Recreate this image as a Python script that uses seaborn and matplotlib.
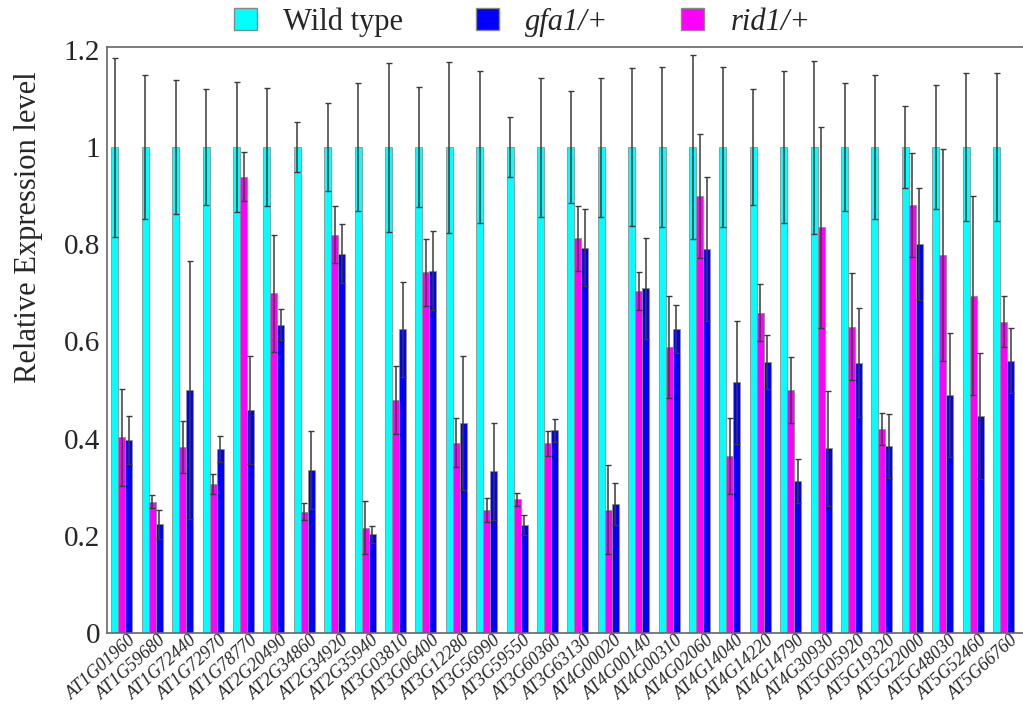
import numpy as np
import pandas as pd
import matplotlib
matplotlib.use("Agg")
import matplotlib.pyplot as plt
import matplotlib.transforms as mtransforms
from matplotlib.patches import Patch
import seaborn as sns

# Données
genes = ["AT1G01960", "AT1G59680", "AT1G72440", "AT1G72970", "AT1G78770",
         "AT2G20490", "AT2G34860", "AT2G34920", "AT2G35940", "AT3G03810",
         "AT3G06400", "AT3G12280", "AT3G56990", "AT3G59550", "AT3G60360",
         "AT3G63130", "AT4G00020", "AT4G00140", "AT4G00310", "AT4G02060",
         "AT4G14040", "AT4G14220", "AT4G14790", "AT4G30930", "AT5G05920",
         "AT5G19320", "AT5G22000", "AT5G48030", "AT5G52460", "AT5G66760"]

wt_mean = [1.0] * 30
wt_err = [0.184, 0.149, 0.138, 0.119, 0.133, 0.121, 0.051, 0.091, 0.131, 0.174,
          0.123, 0.176, 0.156, 0.061, 0.143, 0.115, 0.143, 0.163, 0.165, 0.189,
          0.165, 0.120, 0.156, 0.178, 0.132, 0.148, 0.084, 0.128, 0.152, 0.152]

rid1_mean = [0.403, 0.270, 0.383, 0.307, 0.939, 0.699, 0.250, 0.820, 0.217, 0.479,
             0.742, 0.392, 0.253, 0.275, 0.390, 0.812, 0.254, 0.703, 0.589, 0.899,
             0.365, 0.659, 0.500, 0.835, 0.630, 0.420, 0.880, 0.778, 0.694, 0.641]
rid1_err = [0.100, 0.013, 0.054, 0.021, 0.050, 0.120, 0.017, 0.058, 0.055, 0.070,
            0.069, 0.050, 0.025, 0.013, 0.026, 0.066, 0.091, 0.039, 0.105, 0.127,
            0.078, 0.059, 0.067, 0.207, 0.110, 0.033, 0.107, 0.219, 0.205, 0.052]

gfa1_mean = [0.397, 0.224, 0.500, 0.379, 0.459, 0.634, 0.336, 0.781, 0.203, 0.625,
             0.746, 0.433, 0.333, 0.222, 0.417, 0.793, 0.266, 0.709, 0.626, 0.791,
             0.516, 0.558, 0.313, 0.380, 0.556, 0.385, 0.800, 0.490, 0.446, 0.560]
gfa1_err = [0.050, 0.030, 0.265, 0.027, 0.112, 0.032, 0.080, 0.060, 0.018, 0.098,
            0.082, 0.138, 0.100, 0.020, 0.024, 0.079, 0.043, 0.103, 0.049, 0.148,
            0.127, 0.055, 0.045, 0.118, 0.112, 0.065, 0.115, 0.127, 0.130, 0.067]

genotypes = ["Wild type", "rid1/+", "gfa1/+"]
couleurs = {"Wild type": "#00FFFF", "rid1/+": "#FF00FF", "gfa1/+": "#0000FF"}

# Tableau long pour seaborn
data = pd.DataFrame({
    "gene": genes * 3,
    "genotype": ["Wild type"] * 30 + ["rid1/+"] * 30 + ["gfa1/+"] * 30,
    "valeur": wt_mean + rid1_mean + gfa1_mean,
    "err": wt_err + rid1_err + gfa1_err,
})

sns.set_style("white")
plt.rcParams["font.family"] = ["Liberation Serif", "DejaVu Serif"]

fig = plt.figure(figsize=(10.23, 7.17), dpi=100)
ax = fig.add_axes([107 / 1023, 84 / 717, 916 / 1023, 586 / 717])

sns.barplot(data=data, x="gene", y="valeur", hue="genotype", order=genes,
            hue_order=genotypes, palette=couleurs, width=0.69, gap=0,
            saturation=1, errorbar=None, edgecolor="#909090", linewidth=0.6,
            legend=False, ax=ax)

# Barres d'erreur à partir des barres dessinées
for cont, g in zip(ax.containers, genotypes):
    sub = data[data["genotype"] == g].set_index("gene").loc[genes]
    xs = [p.get_x() + p.get_width() / 2 for p in cont.patches]
    ax.errorbar(xs, sub["valeur"].values, yerr=sub["err"].values, fmt="none",
                ecolor="#3a3a3a", elinewidth=1.1, capsize=2, capthick=1)

ax.set_xlim(-0.49, 29.64)
ax.set_ylim(0, 1.206)
ax.set_yticks([0, 0.2, 0.4, 0.6, 0.8, 1.0, 1.2])
ax.set_yticklabels(["0", "0.2", "0.4", "0.6", "0.8", "1", "1.2"], fontsize=21)
ax.tick_params(axis="y", direction="in", length=4, color="#555555", pad=5)

ax.set_xticks(range(30))
ax.set_xticks(np.arange(0.5, 29.5, 1), minor=True)
ax.tick_params(axis="x", which="major", length=0, pad=4)
ax.tick_params(axis="x", which="minor", direction="in", length=4, color="#888888")
ax.set_xticklabels(genes, rotation=42, ha="right", va="center",
                   rotation_mode="anchor", fontstyle="italic", fontsize=13)
decal = mtransforms.ScaledTranslation(0.12, 0, fig.dpi_scale_trans)
for lab in ax.get_xticklabels():
    lab.set_transform(lab.get_transform() + decal)

ax.set_xlabel("")
ax.set_ylabel("Relative Expression level", fontsize=22)
ax.yaxis.set_label_coords(-0.07, 0.693)

for cote in ["left", "bottom", "top"]:
    ax.spines[cote].set_color("#666666")
    ax.spines[cote].set_linewidth(1.2)
ax.spines["right"].set_visible(False)

poignees = [Patch(facecolor=couleurs["Wild type"], edgecolor="#888888"),
            Patch(facecolor=couleurs["gfa1/+"], edgecolor="#888888"),
            Patch(facecolor=couleurs["rid1/+"], edgecolor="#888888")]
noms = ["Wild type", "gfa1/+", "rid1/+"]
leg = fig.legend(poignees, noms, loc="center", ncol=3, frameon=False, fontsize=22,
                 bbox_to_anchor=(522 / 1023, 1 - 22 / 717), handlelength=0.75,
                 handleheight=0.75, handletextpad=0.85, columnspacing=2.4)
for t in leg.get_texts()[1:]:
    t.set_fontstyle("italic")

plt.savefig("out.png", dpi=100)
